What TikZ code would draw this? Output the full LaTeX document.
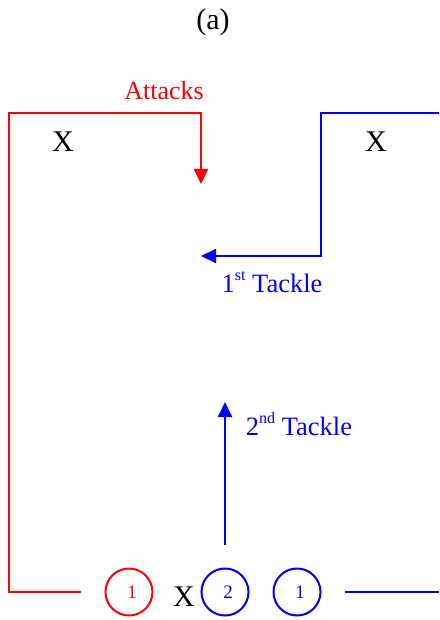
\documentclass[tikz,border=0pt]{standalone}
\usepackage{fontspec}
\setmainfont{Liberation Serif}
\usetikzlibrary{arrows.meta}
\definecolor{myred}{RGB}{255,0,0}
\definecolor{myblue}{RGB}{0,0,255}
\newcommand{\supx}[1]{\raisebox{0.42em}{\fontsize{16}{16}\selectfont #1}}
\newcommand{\offdigit}[1]{\raisebox{-5pt}{\hspace{6pt}#1}}
\begin{document}
\begin{tikzpicture}[x=1pt,y=-1pt,
  line/.style={line width=2pt,line join=miter},
  tip/.style={-{Triangle[width=14pt,length=15pt]}},
  player/.style={circle,draw,line width=2pt,minimum size=47pt,inner sep=0pt,font=\fontsize{19}{19}\selectfont},
  xmk/.style={font=\fontsize{30}{30}\selectfont,inner sep=0pt,anchor=base},
  lbl/.style={font=\fontsize{26.5}{26.5}\selectfont,inner sep=0pt,anchor=base}
]
\useasboundingbox (0,0) rectangle (439,620);

% title
\node[lbl,font=\fontsize{30}{30}\selectfont] (title) at (213,30) {(a)};

% defenders X
\node[xmk] (xl) at (63,152) {X};
\node[xmk] (xr) at (376,152) {X};
\node[xmk] (xb) at (184,606) {X};

% players
\node[player,draw=myred,text=myred] (p1r) at (129,592) {\offdigit{1}};
\node[player,draw=myblue,text=myblue] (p2b) at (225,592) {\offdigit{2}};
\node[player,draw=myblue,text=myblue] (p1b) at (297,592) {\offdigit{1}};

% red attack path
\coordinate (ra) at (81,592);
\coordinate (rb) at (9,592);
\coordinate (rc) at (9,113);
\coordinate (rd) at (201,113);
\coordinate (re) at (201,184);
\draw[line,myred,tip] (ra) -- (rb) -- (rc) -- (rd) -- (re);
\node[lbl,text=myred,font=\fontsize{26}{26}\selectfont] (attacks) at (164,100) {Attacks};

% first tackle path
\coordinate (ba) at (439,113);
\coordinate (bb) at (321,113);
\coordinate (bc) at (321,256);
\coordinate (bd) at (201,256);
\draw[line,myblue,tip] (ba) -- (bb) -- (bc) -- (bd);
\node[lbl,text=myblue] (t1) at (272,292) {1\supx{st} Tackle};

% second tackle
\coordinate (ua) at (225,545);
\coordinate (ub) at (225,402);
\draw[line,myblue,tip] (ua) -- (ub);
\node[lbl,text=myblue] (t2) at (299,435) {2\supx{nd} Tackle};

% bottom right line
\coordinate (la) at (345,592);
\coordinate (lb) at (439,592);
\draw[line,myblue] (la) -- (lb);
\end{tikzpicture}
\end{document}
